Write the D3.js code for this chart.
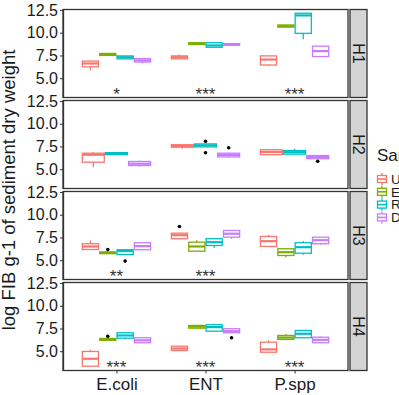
<!DOCTYPE html>
<meta charset="utf-8">
<style>
  body { margin: 0; background: #fff; }
  text { font-family: "Liberation Sans", Arial, sans-serif; }
</style>
<body>
<script src="https://d3js.org/d3.v7.min.js"></script>
<script>

var width = 399,
    height = 395;

var facets = ["H1", "H2", "H3", "H4"];
var categories = ["E.coli", "ENT", "P.spp"];
var groups = ["U", "E", "R", "D"];
var colours = ["#F8766D", "#7CAE00", "#00BFC4", "#C77CFF"];
var yTicks = [5, 7.5, 10, 12.5];

// facet, category, group, lower whisker, q1, median, q3, upper whisker
var boxes = [
  ["H1", "E.coli", "U", 5.88, 6.25, 6.62, 6.88, 6.95],
  ["H1", "E.coli", "E", 7.45, 7.5, 7.6, 7.72, 7.8],
  ["H1", "E.coli", "R", 7.1, 7.12, 7.3, 7.45, 7.48],
  ["H1", "E.coli", "D", 6.62, 6.78, 6.95, 7.15, 7.2],
  ["H1", "ENT", "U", 7.1, 7.12, 7.3, 7.45, 7.6],
  ["H1", "ENT", "E", 8.68, 8.7, 8.8, 8.9, 8.95],
  ["H1", "ENT", "R", 8.35, 8.4, 8.6, 8.9, 9.0],
  ["H1", "ENT", "D", 8.6, 8.62, 8.72, 8.8, 8.82],
  ["H1", "P.spp", "U", 6.33, 6.45, 7.05, 7.45, 7.5],
  ["H1", "P.spp", "E", 10.6, 10.62, 10.72, 10.85, 10.88],
  ["H1", "P.spp", "R", 9.27, 9.93, 11.9, 12.14, 12.15],
  ["H1", "P.spp", "D", 7.35, 7.38, 7.98, 8.52, 8.55],

  ["H2", "E.coli", "U", 5.23, 5.77, 6.59, 6.76, 6.85],
  ["H2", "E.coli", "R", 6.55, 6.6, 6.7, 6.82, 6.85],
  ["H2", "E.coli", "D", 5.3, 5.4, 5.6, 5.85, 5.95],
  ["H2", "ENT", "U", 7.25, 7.42, 7.55, 7.69, 7.72],
  ["H2", "ENT", "R", 7.4, 7.45, 7.62, 7.78, 7.8],
  ["H2", "ENT", "D", 6.3, 6.35, 6.55, 6.76, 6.8],
  ["H2", "P.spp", "U", 6.55, 6.6, 6.9, 7.14, 7.15],
  ["H2", "P.spp", "R", 6.6, 6.65, 6.87, 7.05, 7.25],
  ["H2", "P.spp", "D", 6.12, 6.15, 6.33, 6.5, 6.55],

  ["H3", "E.coli", "U", 6.15, 6.18, 6.51, 6.81, 7.17],
  ["H3", "E.coli", "E", 5.68, 5.72, 5.82, 5.9, 5.95],
  ["H3", "E.coli", "R", 5.6, 5.63, 6.0, 6.15, 6.2],
  ["H3", "E.coli", "D", 6.12, 6.15, 6.55, 6.92, 7.0],
  ["H3", "ENT", "U", 7.3, 7.36, 7.75, 7.97, 8.0],
  ["H3", "ENT", "E", 5.9, 5.99, 6.51, 6.98, 7.2],
  ["H3", "ENT", "R", 6.37, 6.62, 6.98, 7.36, 7.4],
  ["H3", "ENT", "D", 7.35, 7.53, 7.91, 8.27, 8.3],
  ["H3", "P.spp", "U", 6.45, 6.51, 7.09, 7.61, 7.8],
  ["H3", "P.spp", "E", 5.3, 5.52, 5.88, 6.26, 6.3],
  ["H3", "P.spp", "R", 5.6, 5.77, 6.43, 6.92, 7.1],
  ["H3", "P.spp", "D", 6.7, 6.81, 7.2, 7.53, 7.55],

  ["H4", "E.coli", "U", 3.3, 3.35, 4.17, 4.97, 5.16],
  ["H4", "E.coli", "E", 6.18, 6.2, 6.29, 6.4, 6.42],
  ["H4", "E.coli", "R", 6.3, 6.43, 6.73, 7.03, 7.05],
  ["H4", "E.coli", "D", 5.9, 5.93, 6.2, 6.48, 6.5],
  ["H4", "ENT", "U", 5.05, 5.08, 5.3, 5.55, 5.58],
  ["H4", "ENT", "E", 7.5, 7.53, 7.7, 7.83, 7.85],
  ["H4", "ENT", "R", 7.15, 7.2, 7.65, 7.91, 8.05],
  ["H4", "ENT", "D", 7.0, 7.03, 7.2, 7.47, 7.5],
  ["H4", "P.spp", "U", 4.85, 4.89, 5.2, 5.99, 6.2],
  ["H4", "P.spp", "E", 6.25, 6.29, 6.5, 6.73, 6.9],
  ["H4", "P.spp", "R", 6.45, 6.48, 6.92, 7.28, 7.3],
  ["H4", "P.spp", "D", 5.9, 5.93, 6.25, 6.54, 6.6]
];

// facet, category, group, value
var outliers = [
  ["H2", "ENT", "R", 8.08],
  ["H2", "ENT", "R", 6.81],
  ["H2", "ENT", "D", 7.36],
  ["H2", "P.spp", "D", 5.88],
  ["H3", "E.coli", "E", 6.18],
  ["H3", "E.coli", "R", 4.9],
  ["H3", "ENT", "U", 8.71],
  ["H4", "E.coli", "E", 6.65],
  ["H4", "ENT", "D", 6.48]
];

// significance labels: facet, category, label
var stars = [
  ["H1", "E.coli", "*"], ["H1", "ENT", "***"], ["H1", "P.spp", "***"],
  ["H3", "E.coli", "**"], ["H3", "ENT", "***"],
  ["H4", "E.coli", "***"], ["H4", "ENT", "***"], ["H4", "P.spp", "***"]
];
var starLevel = 3.7;

// layout
var left = 63, right = 348,
    stripW = 17,
    panelH = 88, panelGap = 3, top0 = 9.5;

var svg = d3.select("body").append("svg")
    .attr("width", width)
    .attr("height", height);

var x = d3.scalePoint()
    .domain(categories)
    .range([left, right])
    .padding(0.6);

var colour = d3.scaleOrdinal().domain(groups).range(colours);
var dodgeW = x.step() * 0.78;

facets.forEach(function(f, i) {
  var top = top0 + i * (panelH + panelGap);
  var y = d3.scaleLinear().domain([2.88, 12.55]).range([top + panelH, top]);
  var g = svg.append("g");

  g.append("rect")
    .attr("x", left).attr("y", top)
    .attr("width", right - left).attr("height", panelH)
    .attr("fill", "#fff");

  var fBoxes = boxes.filter(function(d) { return d[0] == f; });

  categories.forEach(function(c) {
    var cb = fBoxes.filter(function(d) { return d[1] == c; });
    var present = groups.filter(function(gr) { return cb.some(function(d) { return d[2] == gr; }); });
    var band = d3.scaleBand().domain(present)
      .range([x(c) - dodgeW / 2, x(c) + dodgeW / 2]);

    cb.forEach(function(d) {
      var bx = band(d[2]), bw = band.bandwidth(), cx = bx + bw / 2;
      var col = colour(d[2]);
      g.append("line").attr("x1", cx).attr("x2", cx)
        .attr("y1", y(d[3])).attr("y2", y(d[4]))
        .attr("stroke", col).attr("stroke-width", 1.3);
      g.append("line").attr("x1", cx).attr("x2", cx)
        .attr("y1", y(d[6])).attr("y2", y(d[7]))
        .attr("stroke", col).attr("stroke-width", 1.3);
      g.append("rect")
        .attr("x", bx + 0.6).attr("width", bw - 1.2)
        .attr("y", y(d[6])).attr("height", Math.max(0.5, y(d[4]) - y(d[6])))
        .attr("fill", "#fff").attr("stroke", col).attr("stroke-width", 1.3);
      g.append("line").attr("x1", bx + 0.6).attr("x2", bx + bw - 0.6)
        .attr("y1", y(d[5])).attr("y2", y(d[5]))
        .attr("stroke", col).attr("stroke-width", 2.2);
    });

    outliers.filter(function(d) { return d[0] == f && d[1] == c; }).forEach(function(d) {
      g.append("circle")
        .attr("cx", band(d[2]) + band.bandwidth() / 2)
        .attr("cy", y(d[3]))
        .attr("r", 1.8)
        .attr("fill", "#000");
    });
  });

  stars.filter(function(d) { return d[0] == f; }).forEach(function(d) {
    g.append("text")
      .attr("x", x(d[1]))
      .attr("y", y(starLevel) + 10)
      .attr("text-anchor", "middle")
      .attr("font-size", 17)
      .attr("fill", "#333")
      .text(d[2]);
  });

  // panel border
  g.append("rect")
    .attr("x", left).attr("y", top)
    .attr("width", right - left).attr("height", panelH)
    .attr("fill", "none").attr("stroke", "#333").attr("stroke-width", 1.3);

  // y axis
  var ax = g.append("g")
    .attr("transform", "translate(" + left + ",0)")
    .call(d3.axisLeft(y).tickValues(yTicks).tickFormat(d3.format(".1f")).tickSize(3).tickSizeOuter(0));
  ax.select(".domain").attr("stroke", "#333").attr("stroke-width", 1.3);
  ax.selectAll(".tick line").attr("stroke", "#333");
  ax.selectAll(".tick text")
    .attr("font-size", 16).attr("fill", "#1a1a1a")
    .attr("font-family", "Liberation Sans, Arial, sans-serif")
    .attr("x", -5);

  // strip
  g.append("rect")
    .attr("x", right + 2).attr("y", top)
    .attr("width", stripW).attr("height", panelH)
    .attr("fill", "#d4d4d4").attr("stroke", "#333").attr("stroke-width", 1.3);
  g.append("text")
    .attr("transform", "translate(" + (right + 2 + stripW / 2) + "," + (top + panelH / 2) + ") rotate(90)")
    .attr("text-anchor", "middle")
    .attr("dy", "0.35em")
    .attr("font-size", 16)
    .attr("fill", "#1a1a1a")
    .text(f);

  if (i == facets.length - 1) {
    var xa = g.append("g")
      .attr("transform", "translate(0," + (top + panelH) + ")")
      .call(d3.axisBottom(x).tickSize(3).tickSizeOuter(0));
    xa.select(".domain").remove();
    xa.selectAll(".tick line").attr("stroke", "#333");
    xa.selectAll(".tick text")
      .attr("font-size", 17).attr("fill", "#1a1a1a")
      .attr("font-family", "Liberation Sans, Arial, sans-serif")
      .attr("dy", "0.8em");
  }
});

// y title
svg.append("text")
  .attr("transform", "translate(15," + (top0 + (4 * panelH + 3 * panelGap) / 2) + ") rotate(-90)")
  .attr("text-anchor", "middle")
  .attr("font-size", 18.5)
  .attr("fill", "#1a1a1a")
  .text("log FIB g-1 of sediment dry weight");

// legend
var legend = svg.append("g").attr("transform", "translate(376,0)");
legend.append("text")
  .attr("x", 1).attr("y", 161)
  .attr("font-size", 17).attr("fill", "#1a1a1a")
  .text("Sample");

groups.forEach(function(gr, k) {
  var cy = 179 + k * 12.8, col = colour(gr);
  var key = legend.append("g");
  key.append("line").attr("x1", 6).attr("x2", 6).attr("y1", cy - 6).attr("y2", cy + 6)
    .attr("stroke", col).attr("stroke-width", 1.3);
  key.append("rect").attr("x", 1.5).attr("y", cy - 3.5).attr("width", 9).attr("height", 7)
    .attr("fill", "#fff").attr("stroke", col).attr("stroke-width", 1.3);
  key.append("line").attr("x1", 1.5).attr("x2", 10.5).attr("y1", cy).attr("y2", cy)
    .attr("stroke", col).attr("stroke-width", 1.6);
  legend.append("text")
    .attr("x", 15).attr("y", cy).attr("dy", "0.35em")
    .attr("font-size", 13.5).attr("fill", "#1a1a1a")
    .text(gr);
});

</script>
</body>
